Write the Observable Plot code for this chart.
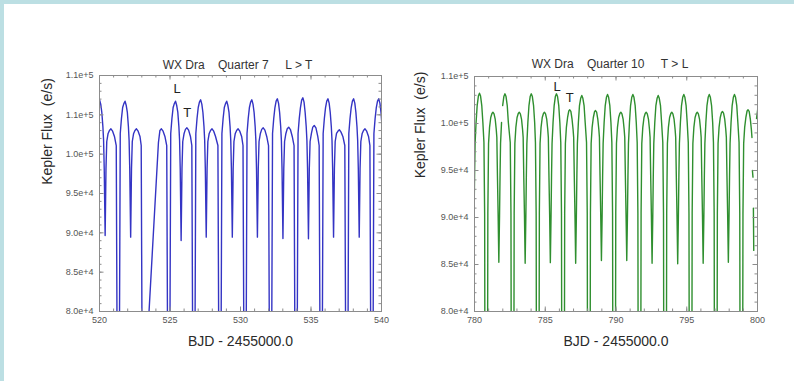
<!DOCTYPE html>
<html>
<head>
<meta charset="utf-8">
<script src="https://cdn.jsdelivr.net/npm/d3@7"></script>
<script src="https://cdn.jsdelivr.net/npm/@observablehq/plot@0.6"></script>
<style>
  html, body { margin: 0; padding: 0; background: #bcdfe3; }
  #page { position: relative; width: 794px; height: 381px; overflow: hidden; background: #bcdfe3; }
  #sheet { position: absolute; left: 4px; top: 4px; right: 0; bottom: 0; background: #ffffff; }
  .panel { position: absolute; top: 0; }
  .panel svg text { white-space: pre; }
</style>
</head>
<body>
<div id="page">
  <div id="sheet"></div>
  <div id="q7" class="panel" style="left:0px"></div>
  <div id="q10" class="panel" style="left:397px"></div>
</div>
<script>
// WX Dra Kepler light curves: [BJD - 2455000, flux (e/s)]; null marks a data gap.
const q7Flux = [
  [519.832,105930],[519.917,106610],[520.002,106910],[520.087,106360],[520.165,105300],[520.240,103520],
  [520.290,101740],[520.335,98180],[520.400,89660],[520.460,98180],[520.515,101610],[520.610,102630],
  [520.705,103020],[520.810,103220],[520.930,102920],[521.060,102250],
  [521.188,101100],[521.224,85850],[521.266,68000],[521.394,68000],[521.472,102630],[521.557,104530],
  [521.642,105930],[521.727,106430],[521.812,106730],[521.897,106180],[521.975,105300],[522.050,103520],
  [522.100,101740],[522.145,98180],[522.210,89450],[522.270,98180],[522.325,101610],[522.420,102630],
  [522.515,103020],[522.620,103220],[522.740,102920],[522.870,102250],
  [522.958,101100],[522.994,85850],[523.036,68000],[523.140,68000],
  [524.180,101480],[524.285,103020],[524.390,103220],[524.510,102920],[524.640,102250],
  [524.768,101100],[524.804,85850],[524.846,68000],[524.974,68000],[525.052,102630],[525.137,104530],
  [525.222,105930],[525.307,106430],[525.392,106730],[525.477,106180],[525.555,105300],[525.630,103520],
  [525.680,101740],[525.725,98180],[525.790,89030],[525.850,98180],[525.905,101610],[526.000,102630],
  [526.095,103150],[526.200,103350],[526.320,103050],[526.450,102250],
  [526.548,101100],[526.584,85850],[526.626,68000],[526.754,68000],[526.832,102630],[526.917,104530],
  [527.002,105930],[527.087,106610],[527.172,106910],[527.257,106360],[527.335,105300],[527.410,103520],
  [527.460,101740],[527.505,98180],[527.570,89450],[527.630,98180],[527.685,101610],[527.780,102630],
  [527.875,103020],[527.980,103220],[528.100,102920],[528.230,102250],
  [528.398,101100],[528.434,85850],[528.476,68000],[528.604,68000],[528.682,102630],[528.767,104530],
  [528.852,105930],[528.937,106430],[529.022,106730],[529.107,106180],[529.185,105300],[529.260,103520],
  [529.310,101740],[529.355,98180],[529.420,89450],[529.480,98180],[529.535,101610],[529.630,102630],
  [529.725,103020],[529.830,103220],[529.950,102920],[530.080,102250],
  [530.178,101100],[530.214,85850],[530.256,68000],[530.384,68000],[530.462,102630],[530.547,104530],
  [530.632,105930],[530.717,106610],[530.802,106910],[530.887,106360],[530.965,105300],[531.040,103520],
  [531.090,101740],[531.135,98180],[531.200,89450],[531.260,98180],[531.315,101610],[531.410,102630],
  [531.505,103150],[531.610,103350],[531.730,103050],[531.860,102250],
  [531.988,101100],[532.024,85850],[532.066,68000],[532.194,68000],[532.272,102630],[532.357,104530],
  [532.442,105930],[532.527,106740],[532.612,107040],[532.697,106490],[532.775,105300],[532.850,103520],
  [532.900,101740],[532.945,98180],[533.010,89280],[533.070,98180],[533.125,101610],[533.220,102630],
  [533.315,103230],[533.420,103430],[533.540,103130],[533.670,102250],
  [533.798,101100],[533.834,85850],[533.876,68000],[534.004,68000],[534.082,102630],[534.167,104530],
  [534.252,105930],[534.337,106870],[534.422,107170],[534.507,106620],[534.585,105300],[534.660,103520],
  [534.710,101740],[534.755,98180],[534.820,89240],[534.880,98180],[534.935,101610],[535.030,102630],
  [535.125,103440],[535.230,103640],[535.350,103340],[535.480,102250],
  [535.578,101100],[535.614,85850],[535.656,68000],[535.784,68000],[535.862,102630],[535.947,104530],
  [536.032,105930],[536.117,106740],[536.202,107040],[536.287,106490],[536.365,105300],[536.440,103520],
  [536.490,101740],[536.535,98180],[536.600,89450],[536.660,98180],[536.715,101610],[536.810,102630],
  [536.905,102900],[537.010,103100],[537.130,102800],[537.260,102250],
  [537.398,101100],[537.434,85850],[537.476,68000],[537.604,68000],[537.682,102630],[537.767,104530],
  [537.852,105930],[537.937,106740],[538.022,107040],[538.107,106490],[538.185,105300],[538.260,103520],
  [538.310,101740],[538.355,98180],[538.420,89450],[538.480,98180],[538.535,101610],[538.630,102630],
  [538.725,103020],[538.830,103220],[538.950,102920],[539.080,102250],
  [539.178,101100],[539.214,85850],[539.256,68000],[539.384,68000],[539.462,102630],[539.547,104530],
  [539.632,105930],[539.717,106740],[539.802,107040],[539.887,106490],[539.965,105300],[540.040,103520]
];

const q10Flux = [
  [779.920,85200],[779.970,90210],[780.005,94470],[780.041,97870],[780.111,100110],[780.189,101910],
  [780.274,102920],[780.352,103220],[780.429,102920],[780.514,101910],[780.592,100110],
  [780.667,97980],[780.717,90420],[780.752,62000],[780.908,62000],[780.943,90420],[780.993,97870],
  [781.063,99580],[781.148,100640],[781.233,101070],[781.303,101200],[781.381,101030],[781.466,100430],
  [781.537,99360],[781.579,98510],[781.621,94470],[781.671,90210],[781.720,85240],[781.770,90210],
  [781.805,94470],[781.841,97870],[781.911,100110],[781.950,null],[781.989,101910],[782.074,102860],
  [782.152,103160],[782.229,102860],[782.314,101910],[782.392,100110],
  [782.527,97980],[782.577,90420],[782.612,62000],[782.768,62000],[782.803,90420],[782.853,97870],
  [782.923,99580],[783.008,100640],[783.093,101070],[783.163,101200],[783.241,101030],[783.326,100430],
  [783.397,99360],[783.439,98510],[783.481,94470],[783.531,90210],[783.580,85140],[783.630,90210],
  [783.665,94470],[783.701,97870],[783.771,100110],[783.849,101910],[783.934,102860],[784.012,103160],
  [784.089,102860],[784.174,101910],[784.252,100110],
  [784.307,97980],[784.357,90420],[784.392,62000],[784.548,62000],[784.583,90420],[784.633,97870],
  [784.703,99580],[784.788,100640],[784.873,101070],[784.943,101200],[785.021,101030],[785.106,100430],
  [785.177,99360],[785.219,98510],[785.261,94470],[785.311,90210],[785.360,85200],[785.410,90210],
  [785.445,94470],[785.481,97870],[785.551,100110],[785.629,101910],[785.714,102860],[785.792,103160],
  [785.869,102860],[785.954,101910],[786.032,100110],
  [786.097,97980],[786.147,90420],[786.182,62000],[786.338,62000],[786.373,90420],[786.423,97870],
  [786.493,99580],[786.578,100640],[786.663,101330],[786.733,101460],[786.811,101290],[786.896,100430],
  [786.967,99360],[787.009,98510],[787.051,94470],[787.101,90210],[787.150,85140],[787.200,90210],
  [787.235,94470],[787.271,97870],[787.341,100110],[787.419,101910],[787.504,102680],[787.582,102980],
  [787.659,102680],[787.744,101910],[787.822,100110],
  [787.917,97980],[787.967,90420],[788.002,62000],[788.158,62000],[788.193,90420],[788.243,97870],
  [788.313,99580],[788.398,100640],[788.483,101250],[788.553,101380],[788.631,101210],[788.716,100430],
  [788.787,99360],[788.829,98510],[788.871,94470],[788.921,90210],[788.970,85430],[789.020,90210],
  [789.055,94470],[789.091,97870],[789.161,100110],[789.239,101910],[789.324,102785],[789.402,103085],
  [789.479,102785],[789.564,101910],[789.642,100110],
  [789.707,97980],[789.757,90420],[789.792,62000],[789.948,62000],[789.983,90420],[790.033,97870],
  [790.103,99580],[790.188,100640],[790.273,101070],[790.343,101200],[790.421,101030],[790.506,100430],
  [790.577,99360],[790.619,98510],[790.661,94470],[790.711,90210],[790.760,85430],[790.810,90210],
  [790.845,94470],[790.881,97870],[790.951,100110],[791.029,101910],[791.114,102785],[791.192,103085],
  [791.269,102785],[791.354,101910],[791.432,100110],
  [791.497,97980],[791.547,90420],[791.582,62000],[791.738,62000],[791.773,90420],[791.823,97870],
  [791.893,99580],[791.978,100640],[792.063,101070],[792.133,101200],[792.211,101030],[792.296,100430],
  [792.367,99360],[792.409,98510],[792.451,94470],[792.501,90210],[792.550,85140],[792.600,90210],
  [792.635,94470],[792.671,97870],[792.741,100110],[792.819,101910],[792.904,102680],[792.982,102980],
  [793.059,102680],[793.144,101910],[793.222,100110],
  [793.307,97980],[793.357,90420],[793.392,62000],[793.548,62000],[793.583,90420],[793.633,97870],
  [793.703,99580],[793.788,100640],[793.873,101070],[793.943,101200],[794.021,101030],[794.106,100430],
  [794.177,99360],[794.219,98510],[794.261,94470],[794.311,90210],[794.360,85070],[794.410,90210],
  [794.445,94470],[794.481,97870],[794.551,100110],[794.629,101910],[794.714,102785],[794.792,103085],
  [794.869,102785],[794.954,101910],[795.032,100110],
  [795.107,97980],[795.157,90420],[795.192,62000],[795.348,62000],[795.383,90420],[795.433,97870],
  [795.503,99580],[795.588,100640],[795.673,101070],[795.743,101200],[795.821,101030],[795.906,100430],
  [795.977,99360],[796.019,98510],[796.061,94470],[796.111,90210],[796.160,85140],[796.210,90210],
  [796.245,94470],[796.281,97870],[796.351,100110],[796.429,101910],[796.514,102785],[796.592,103085],
  [796.669,102785],[796.754,101910],[796.832,100110],
  [796.887,97980],[796.937,90420],[796.972,62000],[797.128,62000],[797.163,90420],[797.213,97870],
  [797.283,99580],[797.368,100640],[797.453,101150],[797.523,101280],[797.601,101110],[797.686,100430],
  [797.757,99360],[797.799,98510],[797.841,94470],[797.891,90210],[797.940,85240],[797.990,90210],
  [798.025,94470],[798.061,97870],[798.131,100110],[798.209,101910],[798.294,102785],[798.372,103085],
  [798.449,102785],[798.534,101910],[798.612,100110],
  [798.697,97980],[798.747,90420],[798.782,62000],[798.938,62000],[798.973,90420],[799.023,97870],
  [799.093,99580],[799.178,100640],[799.263,101330],[799.333,101460],[799.411,101290],[799.496,100430],
  [799.567,99360],[799.609,98510],[799.625,null],[799.640,95000],[799.680,94300],[799.695,null],
  [799.710,91000],[799.735,86500],[799.800,null],[799.930,100530],[800.050,101910]
];

// Axis ticks and their printed labels
const q7XTicks = [520, 525, 530, 535, 540];
const q10XTicks = [780, 785, 790, 795, 800];
const q7YTicks = [80000, 85000, 90000, 95000, 100000, 105000, 110000];
const q7YTickLabels = ["8.0e+4", "8.5e+4", "9.0e+4", "9.5e+4", "1.0e+5", "1.1e+5", "1.1e+5"];
const q10YTicks = [80000, 85000, 90000, 95000, 100000, 105000];
const q10YTickLabels = ["8.0e+4", "8.5e+4", "9.0e+4", "9.5e+4", "1.0e+5", "1.1e+5"];

// Maximum markers (leading / trailing)
const q7Notes = [{t: 525.51, f: 108350, text: "L"}, {t: 526.22, f: 105210, text: "T"}];
const q10Notes = [{t: 785.84, f: 103940, text: "L"}, {t: 786.73, f: 102730, text: "T"}];

const titles = ["WX Dra    Quarter 7     L > T", "WX Dra    Quarter 10     T > L"];
const yTitle = "Kepler Flux  (e/s)";
const xTitle = "BJD - 2455000.0";

const FONT = "'Liberation Sans', Arial, Helvetica, sans-serif";
const AXIS = "#8c8c8c";

function panel(opts) {
  const {series, color, xTicks, yTicks, yTickLabels, xDomain, yDomain, notes, title, m, titleDx, titleDy, yTitleDx, yTitleDy} = opts;
  const W = 397, H = 381;
  const innerW = W - m.left - m.right;
  const innerH = H - m.top - m.bottom;
  const yLabelOf = new Map(yTicks.map((v, i) => [v, yTickLabels[i]]));
  const xMinor = d3.range(xDomain[0], xDomain[1] + 0.5, 1);
  const yMinor = d3.range(yDomain[0], yDomain[1] + 1, 1000);
  const minor = 2.5, major = 4.5;
  return Plot.plot({
    width: W, height: H,
    marginLeft: m.left, marginRight: m.right, marginTop: m.top, marginBottom: m.bottom,
    x: {domain: xDomain},
    y: {domain: yDomain},
    style: {fontFamily: FONT, fontSize: "9px", color: "#555", background: "transparent", overflow: "visible"},
    marks: [
      Plot.line(series, {x: d => d[0], y: d => d[1], stroke: color, strokeWidth: 1.4, clip: true}),
      Plot.frame({stroke: AXIS}),
      // inward ticks on all four sides
      Plot.tickX(xMinor, {x: d => d, insetTop: innerH - minor, stroke: AXIS}),
      Plot.tickX(xMinor, {x: d => d, insetBottom: innerH - minor, stroke: AXIS}),
      Plot.tickX(xTicks, {x: d => d, insetTop: innerH - major, stroke: AXIS}),
      Plot.tickX(xTicks, {x: d => d, insetBottom: innerH - major, stroke: AXIS}),
      Plot.tickY(yMinor, {y: d => d, insetRight: innerW - minor, stroke: AXIS}),
      Plot.tickY(yMinor, {y: d => d, insetLeft: innerW - minor, stroke: AXIS}),
      Plot.tickY(yTicks, {y: d => d, insetRight: innerW - major, stroke: AXIS}),
      Plot.tickY(yTicks, {y: d => d, insetLeft: innerW - major, stroke: AXIS}),
      Plot.axisX({ticks: xTicks, tickSize: 0, tickPadding: 5, label: null, fill: "#555"}),
      Plot.axisY({ticks: yTicks, tickSize: 0, tickPadding: 6, label: null, tickFormat: d => yLabelOf.get(d), fill: "#555"}),
      Plot.text([title], {text: d => d, frameAnchor: "top", dx: titleDx, dy: titleDy, fontSize: 12, fill: "#333"}),
      Plot.text([yTitle], {text: d => d, frameAnchor: "left", textAnchor: "middle", rotate: -90, dx: yTitleDx, dy: yTitleDy, fontSize: 14, fill: "#2a2a2a"}),
      Plot.text([xTitle], {text: d => d, frameAnchor: "bottom", dy: 34, fontSize: 14, fill: "#2a2a2a"}),
      Plot.text(notes, {x: "t", y: "f", text: "text", fontSize: 13, fill: "#222"})
    ]
  });
}

document.getElementById("q7").append(panel({
  series: q7Flux, color: "#3434c4",
  xTicks: q7XTicks, yTicks: q7YTicks, yTickLabels: q7YTickLabels,
  xDomain: [520, 540], yDomain: [80000, 110000], notes: q7Notes,
  title: titles[0], m: {left: 99, right: 16, top: 75, bottom: 70},
  titleDx: -3, titleDy: -15, yTitleDx: -52, yTitleDy: -62
}));

document.getElementById("q10").append(panel({
  series: q10Flux, color: "#2f8f2f",
  xTicks: q10XTicks, yTicks: q10YTicks, yTickLabels: q10YTickLabels,
  xDomain: [780, 800], yDomain: [80000, 105000], notes: q10Notes,
  title: titles[1], m: {left: 77, right: 37, top: 76, bottom: 70},
  titleDx: -6, titleDy: -17, yTitleDx: -54, yTitleDy: -69
}));
</script>
</body>
</html>
